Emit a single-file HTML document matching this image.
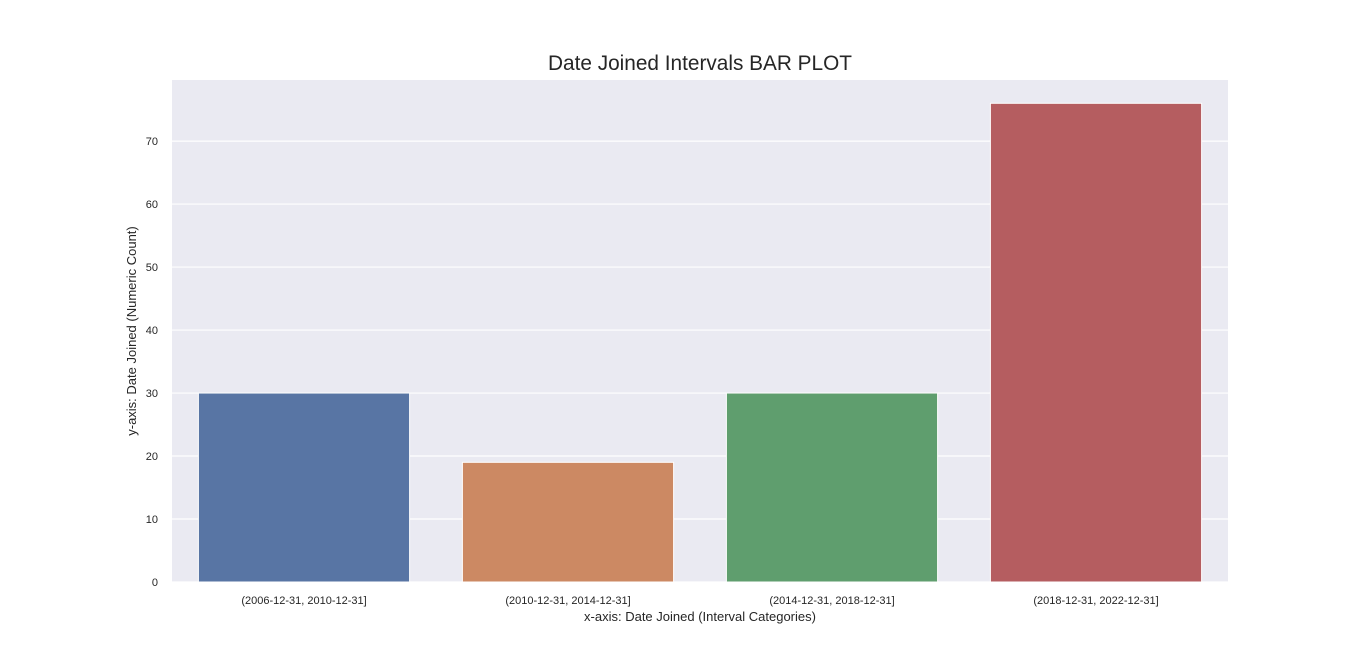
<!DOCTYPE html>
<html><head><meta charset="utf-8"><style>
body{margin:0;background:#fff;}
svg{display:block;font-family:"Liberation Sans",sans-serif;}
</style></head><body>
<svg id="chart" width="1366" height="655">
<rect x="172" y="80" width="1056" height="502" fill="#eaeaf2"/>
<g id="grid"></g><g id="bars"></g><g id="yticks"></g><g id="xticks"></g>
<text x="700" y="70" text-anchor="middle" font-size="20.8" fill="#262626">Date Joined Intervals BAR PLOT</text>
<text x="700" y="621" text-anchor="middle" font-size="13" fill="#262626">x-axis: Date Joined (Interval Categories)</text>
<text transform="translate(136,331) rotate(-90)" text-anchor="middle" font-size="13" fill="#262626">y-axis: Date Joined (Numeric Count)</text>
</svg>
<script>
const categories=["(2006-12-31, 2010-12-31]","(2010-12-31, 2014-12-31]","(2014-12-31, 2018-12-31]","(2018-12-31, 2022-12-31]"];
const values=[30,19,30,76];
const colors=["#5875a4","#cc8963","#5f9e6e","#b55d60"];
const yTicks=[0,10,20,30,40,50,60,70];
const ns="http://www.w3.org/2000/svg";
const L=172,R=1228,T=80,B=582,yMax=79.7;
const y=v=>B-(v/yMax)*(B-T);
const band=(R-L)/categories.length;
const x=i=>L+band*i;
function mk(tag,attrs,parent,text){const e=document.createElementNS(ns,tag);for(const k in attrs)e.setAttribute(k,attrs[k]);if(text!==undefined)e.textContent=text;document.getElementById(parent).appendChild(e);return e;}
yTicks.forEach(t=>{
 const g=mk('line',{x1:L,x2:R,y1:y(t),y2:y(t),stroke:'#fff','stroke-width':1.2},'grid');
 
 
 const l=mk('text',{x:158,y:y(t)+4,'text-anchor':'end','font-size':11,fill:'#262626'},'yticks',String(t));
 
 
});
categories.forEach((c,i)=>{
 const w=band*0.8;
 const b=mk('rect',{x:x(i)+band*0.1,y:y(values[i]),width:w,height:B-y(values[i]),fill:colors[i],stroke:'#fff','stroke-width':1},'bars');
 
 
 const l=mk('text',{x:x(i)+band/2,y:604,'text-anchor':'middle','font-size':11,fill:'#262626'},'xticks',c);
 
 
});
</script>
</body></html>
